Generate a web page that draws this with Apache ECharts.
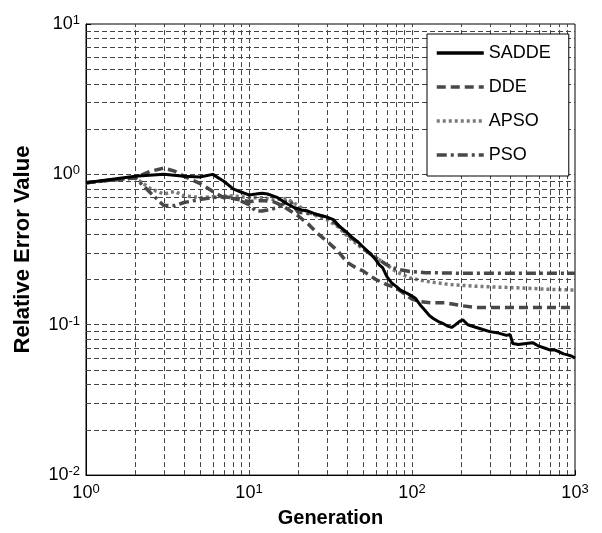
<!DOCTYPE html>
<html><head><meta charset="utf-8">
<script src="https://cdn.jsdelivr.net/npm/echarts@6/dist/echarts.min.js"></script>
<style>html,body{margin:0;padding:0;background:#fff}#c{width:602px;height:533px}</style>
</head><body><div id="c"></div>
<script>
const seriesNames = ['SADDE', 'DDE', 'APSO', 'PSO'];

const saddeGen = [1,2,3,4,5,6,7,8,9,10,11,12,13,14,15,17,19,21,23,25,28,30,33,36,40,43,46,50,55,60,63,66,70,75,80,85,90,97,105,112,120,128,135,145,155,165,175,185,195,205,220,240,272,300,340,380,400,415,450,500,550,600,650,700,750,800,850,900,950,1000];
const saddeVal = [0.88,0.97,1.0,0.97,0.96,1.0,0.9,0.8,0.76,0.73,0.74,0.75,0.74,0.72,0.70,0.64,0.60,0.58,0.57,0.55,0.53,0.52,0.50,0.45,0.41,0.38,0.36,0.33,0.30,0.27,0.25,0.24,0.21,0.19,0.18,0.17,0.165,0.158,0.15,0.136,0.125,0.115,0.11,0.105,0.102,0.098,0.096,0.1,0.105,0.108,0.1,0.097,0.093,0.09,0.088,0.085,0.086,0.075,0.074,0.075,0.076,0.072,0.07,0.068,0.068,0.066,0.064,0.063,0.062,0.06];

const ddeGen = [1,2,2.5,3,3.5,4,5,6,7,8,10,12,14,16,18,20,23,26,30,35,40,45,50,60,70,80,90,100,110,130,160,200,250,300,400,500,700,1000];
const ddeVal = [0.88,0.95,1.05,1.1,1.05,0.97,0.87,0.77,0.7,0.69,0.66,0.67,0.66,0.62,0.57,0.53,0.47,0.41,0.36,0.31,0.26,0.24,0.228,0.2,0.185,0.176,0.16,0.148,0.143,0.14,0.14,0.134,0.13,0.13,0.13,0.13,0.13,0.13];

const apsoGen = [1,2,2.5,3,3.5,4,5,6,8,10,12,14,17,20,23,26,30,35,40,45,50,60,70,80,97,120,170,250,440,700,1000];
const apsoVal = [0.88,0.95,0.8,0.74,0.77,0.72,0.7,0.71,0.72,0.7,0.7,0.68,0.69,0.62,0.56,0.53,0.50,0.45,0.39,0.35,0.32,0.28,0.25,0.225,0.205,0.195,0.185,0.18,0.176,0.172,0.17];

const psoGen = [1,2,2.5,3,3.5,4,5,6,7,8,10,11,12,13,15,17,18,20,23,26,30,35,40,45,50,60,70,80,97,120,200,1000];
const psoVal = [0.88,0.95,0.75,0.62,0.62,0.65,0.68,0.7,0.71,0.7,0.63,0.57,0.57,0.58,0.6,0.66,0.66,0.56,0.55,0.54,0.52,0.46,0.40,0.36,0.32,0.28,0.25,0.235,0.226,0.222,0.22,0.22];

const xGridLines = [2,3,4,5,6,7,8,9,10,20,30,40,50,60,70,80,90,100,200,300,400,500,600,700,800,900];
const yGridLines = [0.02,0.03,0.04,0.05,0.06,0.07,0.08,0.09,0.1,0.2,0.3,0.4,0.5,0.6,0.7,0.8,0.9,1,2,3,4,5,6,7,8,9];

const zip = (g, v) => g.map((x, i) => [x, v[i]]);
const FONT = '"Liberation Sans", Arial, sans-serif';

function powLabel(v) {
  const e = Math.round(Math.log10(v));
  return '{b|10}{s|' + e + '}';
}
const richLab = {
  b: { fontSize: 18, fontFamily: FONT, color: '#000', lineHeight: 20 },
  s: { fontSize: 13, fontFamily: FONT, color: '#000', verticalAlign: 'top', lineHeight: 13, padding: [0, 0, 7, 0] }
};

const gridStyle = { color: '#444', width: 1, type: [5, 3] };

const chart = echarts.init(document.getElementById('c'), null, { renderer: 'canvas' });
chart.setOption({
  animation: false,
  backgroundColor: '#fff',
  grid: { left: 86, right: 27, top: 24, bottom: 54, show: true, borderColor: '#000', borderWidth: 1, backgroundColor: 'transparent' },
  xAxis: {
    type: 'log', logBase: 10, min: 1, max: 1000,
    name: 'Generation', nameLocation: 'middle', nameGap: 30,
    nameTextStyle: { fontSize: 20, fontWeight: 'bold', fontFamily: FONT, color: '#000' },
    axisLine: { show: true, lineStyle: { color: '#000', width: 1 } },
    axisTick: { show: true, inside: true, length: 5, lineStyle: { color: '#000' } },
    splitLine: { show: false },
    axisLabel: { formatter: powLabel, rich: richLab, margin: 8 }
  },
  yAxis: {
    type: 'log', logBase: 10, min: 0.01, max: 10,
    name: 'Relative Error Value', nameLocation: 'middle', nameGap: 52,
    nameTextStyle: { fontSize: 22, fontWeight: 'bold', fontFamily: FONT, color: '#000' },
    axisLine: { show: true, lineStyle: { color: '#000', width: 1 } },
    axisTick: { show: true, inside: true, length: 5, lineStyle: { color: '#000' } },
    splitLine: { show: false },
    axisLabel: { formatter: powLabel, rich: richLab, margin: 6 }
  },
  legend: {
    data: seriesNames,
    orient: 'vertical', left: 427, top: 34,
    padding: [10, 18, 12, 8], itemGap: 16, itemWidth: 47, itemHeight: 14,
    backgroundColor: '#fff', borderColor: '#000', borderWidth: 1, borderRadius: 0,
    itemStyle: { opacity: 0 },
    lineStyle: { width: 3.5 },
    textStyle: { fontSize: 18, fontFamily: FONT, color: '#000' },
    z: 10
  },
  series: [
    {
      name: 'grid', type: 'line', data: [], z: 1, silent: true,
      markLine: {
        silent: true, symbol: 'none', label: { show: false }, animation: false,
        lineStyle: gridStyle,
        data: xGridLines.map(v => ({ xAxis: v })).concat(yGridLines.map(v => ({ yAxis: v })))
      }
    },
    { name: 'SADDE', type: 'line', data: zip(saddeGen, saddeVal), symbol: 'none', z: 5,
      lineStyle: { color: '#000', width: 3, type: 'solid' }, itemStyle: { color: '#000' } },
    { name: 'DDE', type: 'line', data: zip(ddeGen, ddeVal), symbol: 'none', z: 4,
      lineStyle: { color: '#484848', width: 3.5, type: [9, 5] }, itemStyle: { color: '#484848' } },
    { name: 'APSO', type: 'line', data: zip(apsoGen, apsoVal), symbol: 'none', z: 3,
      lineStyle: { color: '#7a7a7a', width: 3.5, type: [3, 3] }, itemStyle: { color: '#7a7a7a' } },
    { name: 'PSO', type: 'line', data: zip(psoGen, psoVal), symbol: 'none', z: 4,
      lineStyle: { color: '#484848', width: 3.5, type: [10, 4, 3, 4] }, itemStyle: { color: '#484848' } }
  ]
});
</script>
</body></html>
